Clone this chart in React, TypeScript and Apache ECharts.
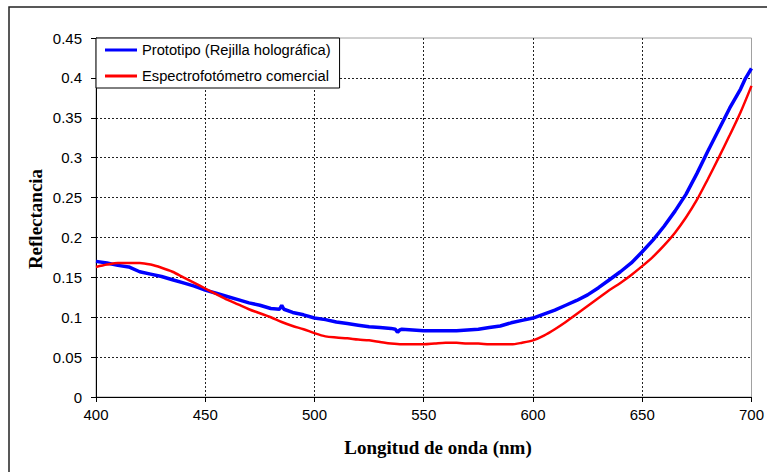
import React, { useEffect, useRef } from "react";
import * as echarts from "echarts";

const wavelengths = [400, 405, 410, 415, 420, 425, 430, 435, 440, 445, 450, 455, 460, 465, 470, 475, 480, 484, 485, 486, 490, 495, 500, 505, 510, 515, 520, 525, 530, 535, 537, 538, 539, 540, 545, 550, 555, 560, 565, 570, 575, 580, 585, 590, 595, 600, 605, 610, 615, 620, 625, 630, 635, 640, 645, 650, 655, 660, 665, 670, 675, 680, 685, 690, 695, 697, 700];
const prototipo = [0.170, 0.168, 0.165, 0.163, 0.157, 0.154, 0.151, 0.147, 0.143, 0.139, 0.134, 0.130, 0.126, 0.122, 0.118, 0.115, 0.111, 0.110, 0.115, 0.110, 0.106, 0.103, 0.099, 0.097, 0.094, 0.092, 0.090, 0.088, 0.087, 0.086, 0.085, 0.081, 0.084, 0.085, 0.084, 0.083, 0.083, 0.083, 0.083, 0.084, 0.085, 0.087, 0.089, 0.093, 0.096, 0.099, 0.104, 0.109, 0.115, 0.121, 0.128, 0.137, 0.147, 0.157, 0.168, 0.182, 0.197, 0.214, 0.233, 0.254, 0.280, 0.308, 0.335, 0.362, 0.386, 0.398, 0.412];

const redWavelengths = [400, 405, 410, 415, 420, 425, 430, 435, 440, 445, 450, 455, 460, 465, 470, 475, 480, 485, 490, 495, 500, 505, 510, 515, 520, 525, 530, 535, 540, 545, 550, 555, 560, 565, 570, 575, 580, 585, 590, 595, 600, 605, 610, 615, 620, 625, 630, 635, 640, 645, 650, 655, 660, 665, 670, 675, 680, 685, 690, 695, 700];
const espectrofotometro = [0.163, 0.166, 0.168, 0.168, 0.168, 0.166, 0.162, 0.157, 0.150, 0.143, 0.136, 0.129, 0.122, 0.116, 0.110, 0.105, 0.100, 0.094, 0.089, 0.085, 0.080, 0.076, 0.0745, 0.0735, 0.072, 0.071, 0.069, 0.067, 0.066, 0.066, 0.066, 0.067, 0.068, 0.068, 0.067, 0.067, 0.066, 0.066, 0.066, 0.068, 0.071, 0.077, 0.085, 0.094, 0.104, 0.114, 0.124, 0.134, 0.143, 0.153, 0.164, 0.176, 0.190, 0.206, 0.225, 0.247, 0.273, 0.300, 0.328, 0.357, 0.390];

const seriesNames = ["Prototipo (Rejilla holográfica)", "Espectrofotómetro comercial"];
const xTitle = "Longitud de onda (nm)";
const yTitle = "Reflectancia";

export default function App() {
  const ref = useRef<HTMLDivElement>(null);
  useEffect(() => {
    if (!ref.current) return;
    const chart = echarts.init(ref.current, null, { renderer: "svg" });
    const sans = "Arial, 'Liberation Sans', sans-serif";
    const serif = "'Times New Roman', 'Liberation Serif', serif";
    chart.setOption({
      animation: false,
      backgroundColor: "#fff",
      grid: {
        left: 96,
        top: 38,
        width: 659,
        height: 359,
        show: true,
        borderColor: "#a0a0a0",
        borderWidth: 1,
        backgroundColor: "transparent",
      },
      legend: {
        left: 96,
        top: 38,
        orient: "vertical",
        data: seriesNames,
        icon: "rect",
        backgroundColor: "#fff",
        borderColor: "#000",
        borderWidth: 1,
        borderRadius: 0,
        padding: [4.5, 9, 4.5, 9],
        itemWidth: 32,
        itemHeight: 3,
        itemGap: 11,
        textStyle: { fontFamily: sans, fontSize: 14.7, color: "#000", lineHeight: 15 },
      },
      xAxis: {
        type: "value",
        min: 400,
        max: 700,
        interval: 50,
        axisLine: { show: true, lineStyle: { color: "#000", width: 1 } },
        axisTick: { show: true, inside: false, length: 5, lineStyle: { color: "#000" } },
        axisLabel: { fontFamily: sans, fontSize: 15, color: "#000", margin: 10 },
        splitLine: {
          show: true,
          showMinLine: false,
          showMaxLine: false,
          lineStyle: { color: "#222", type: [2, 2], width: 1 },
        },
      },
      yAxis: {
        type: "value",
        min: 0,
        max: 0.45,
        interval: 0.05,
        axisLine: { show: true, lineStyle: { color: "#000", width: 1 } },
        axisTick: { show: true, inside: false, length: 5, lineStyle: { color: "#000" } },
        axisLabel: {
          fontFamily: sans,
          fontSize: 15,
          color: "#000",
          margin: 14,
          formatter: (v: number) => String(+v.toFixed(2)),
        },
        splitLine: {
          show: true,
          showMinLine: false,
          showMaxLine: false,
          lineStyle: { color: "#222", type: [2, 2], width: 1 },
        },
      },
      series: [
        {
          name: seriesNames[0],
          type: "line",
          data: wavelengths.map((w, i) => [w, prototipo[i]]),
          showSymbol: false,
          symbol: "none",
          lineStyle: { color: "#0000ff", width: 3.5 },
          itemStyle: { color: "#0000ff" },
        },
        {
          name: seriesNames[1],
          type: "line",
          data: redWavelengths.map((w, i) => [w, espectrofotometro[i]]),
          showSymbol: false,
          symbol: "none",
          smooth: 0.3,
          lineStyle: { color: "#ff0000", width: 2.5 },
          itemStyle: { color: "#ff0000" },
        },
      ],
      graphic: [
        {
          type: "rect",
          shape: { x: 9, y: 7, width: 900, height: 600 },
          style: { fill: "none", stroke: "#222", lineWidth: 1.5 },
          z: 100,
        },
        {
          type: "text",
          x: 438,
          y: 447,
          style: {
            text: xTitle,
            font: `bold 19px ${serif}`,
            fill: "#000",
            align: "center",
            verticalAlign: "middle",
          },
        },
        {
          type: "text",
          x: 35,
          y: 219,
          rotation: Math.PI / 2,
          style: {
            text: yTitle,
            font: `bold 19px ${serif}`,
            fill: "#000",
            align: "center",
            verticalAlign: "middle",
          },
        },
      ],
    });
    return () => chart.dispose();
  }, []);
  return (
    <div
      ref={ref}
      style={{ position: "fixed", left: 0, top: 0, width: 767, height: 472 }}
    />
  );
}
